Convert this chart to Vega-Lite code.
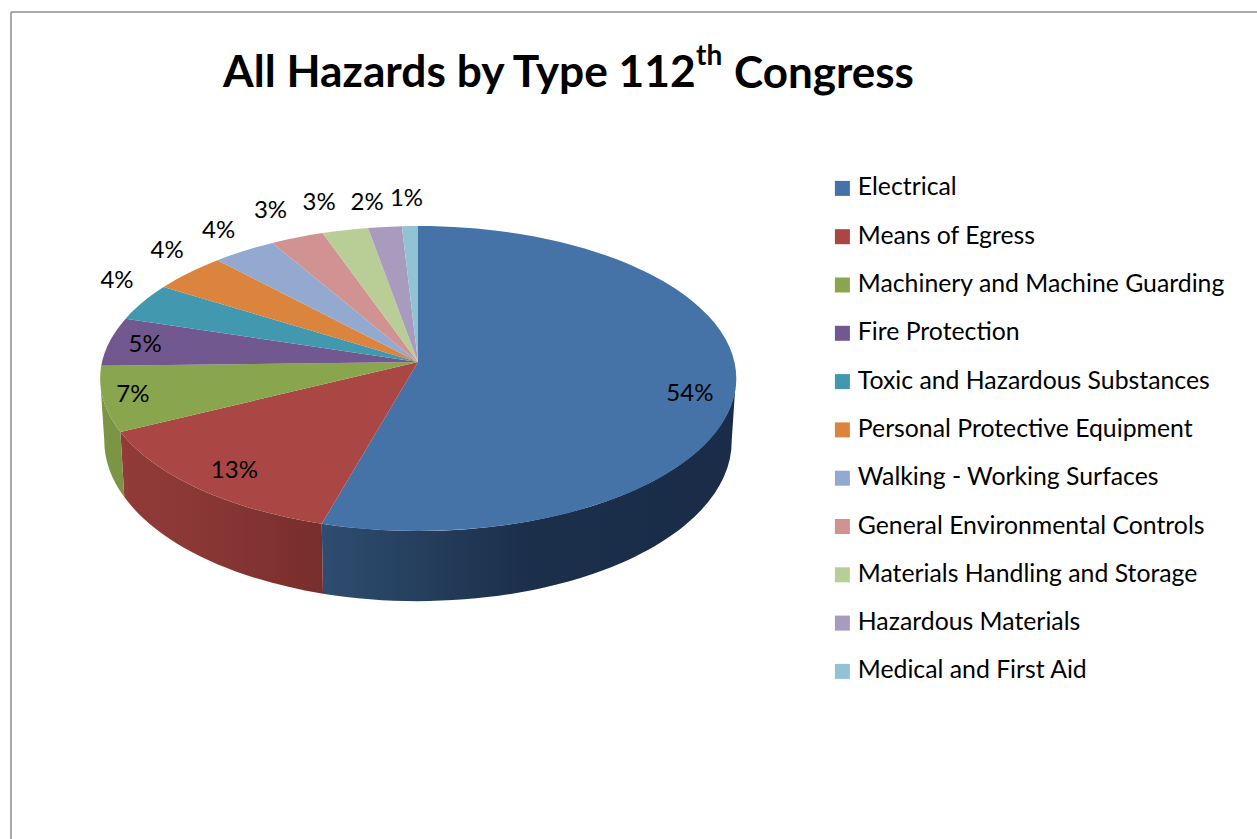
{
  "$schema": "https://vega.github.io/schema/vega-lite/v6.json",
  "width": 1257,
  "height": 839,
  "padding": 0,
  "autosize": "none",
  "background": "white",
  "view": {"stroke": null},
  "title": {
    "text": "All Hazards by Type 112",
    "anchor": "start",
    "frame": "group",
    "dx": 223,
    "dy": 43,
    "offset": -88,
    "baseline": "alphabetic",
    "font": "Lato",
    "fontWeight": "bold",
    "fontSize": 44.3,
    "color": "black"
  },
  "layer": [
    {
      "data": {"values": [
        {"type": "Electrical", "share": 54.4},
        {"type": "Means of Egress", "share": 13.3},
        {"type": "Machinery and Machine Guarding", "share": 6.9},
        {"type": "Fire Protection", "share": 5.2},
        {"type": "Toxic and Hazardous Substances", "share": 4.0},
        {"type": "Personal Protective Equipment", "share": 4.2},
        {"type": "Walking - Working Surfaces", "share": 3.6},
        {"type": "General Environmental Controls", "share": 3.0},
        {"type": "Materials Handling and Storage", "share": 2.6},
        {"type": "Hazardous Materials", "share": 1.9},
        {"type": "Medical and First Aid", "share": 0.9}
      ]},
      "transform": [
        {"window": [{"op": "sum", "field": "share", "as": "cum"}, {"op": "row_number", "as": "rank"}]},
        {"calculate": "(datum.cum-datum.share)/100*2*PI", "as": "a0"},
        {"calculate": "datum.cum/100*2*PI", "as": "a1"},
        {"calculate": "(datum.a0+datum.a1)/2", "as": "mid"},
        {"calculate": "316*sin(datum.a0)/(1+0.108*cos(datum.a0))", "as": "px0"},
        {"calculate": "-150.7*cos(datum.a0)/(1+0.108*cos(datum.a0))", "as": "py0"},
        {"calculate": "316*sin(datum.a1)/(1+0.108*cos(datum.a1))", "as": "px1"},
        {"calculate": "-150.7*cos(datum.a1)/(1+0.108*cos(datum.a1))", "as": "py1"},
        {"calculate": "'M0,0L'+datum.px0+','+datum.py0+'A318,152.5 0 '+(datum.share>50?1:0)+' 1 '+datum.px1+','+datum.py1+'Z'", "as": "face"},
        {"calculate": "max(datum.a0,1.679)", "as": "wa0"},
        {"calculate": "min(datum.a1,4.604)", "as": "wa1"},
        {"calculate": "316*sin(datum.wa0)/(1+0.108*cos(datum.wa0))", "as": "wx0"},
        {"calculate": "-150.7*cos(datum.wa0)/(1+0.108*cos(datum.wa0))", "as": "wy0"},
        {"calculate": "316*sin(datum.wa1)/(1+0.108*cos(datum.wa1))", "as": "wx1"},
        {"calculate": "-150.7*cos(datum.wa1)/(1+0.108*cos(datum.wa1))", "as": "wy1"},
        {"calculate": "'M'+datum.wx0+','+datum.wy0+'A318,152.5 0 0 1 '+datum.wx1+','+datum.wy1+'L'+(0.987*datum.wx1)+','+(61.2+1.054*datum.wy1)+'A314,160 0 0 0 '+(0.987*datum.wx0)+','+(61.2+1.054*datum.wy0)+'Z'", "as": "wall"},
        {"calculate": "datum.share>=5?0.87:1.06", "as": "reach"},
        {"calculate": "1+0.108*cos(datum.mid)*datum.reach", "as": "persp"},
        {"calculate": "418+316*sin(datum.mid)*datum.reach/datum.persp+[-4,6,-12,-4,-10,-9,-16,-20,-22,-16,-3][datum.rank-1]", "as": "label_x"},
        {"calculate": "362-150.7*cos(datum.mid)*datum.reach/datum.persp+[14,0,1,1,-18,-17,-14,-20,-20,-17,-20][datum.rank-1]", "as": "label_y"},
        {"calculate": "format(datum.share,'.0f')+'%'", "as": "label"}
      ],
      "layer": [
        {
          "transform": [{"filter": "datum.type==='Electrical'"}],
          "mark": {
            "type": "point", "filled": true, "opacity": 1, "size": 4,
            "fill": {"gradient": "linear", "x1": 0, "y1": 0, "x2": 1, "y2": 0, "stops": [
              {"offset": 0, "color": "#2f4d70"},
              {"offset": 0.25, "color": "#243e5c"},
              {"offset": 0.5, "color": "#1b2f4b"},
              {"offset": 1, "color": "#1a2c47"}
            ]}
          },
          "encoding": {
            "x": {"datum": 418, "type": "quantitative", "scale": {"domain": [0, 1257], "range": [0, 1257]}, "axis": null},
            "y": {"datum": 362, "type": "quantitative", "scale": {"domain": [0, 839], "range": [0, 839]}, "axis": null},
            "shape": {"field": "wall", "type": "nominal", "scale": null}
          }
        },
        {
          "transform": [{"filter": "datum.type==='Means of Egress'"}],
          "mark": {
            "type": "point", "filled": true, "opacity": 1, "size": 4,
            "fill": {"gradient": "linear", "x1": 0, "y1": 0, "x2": 1, "y2": 0, "stops": [
              {"offset": 0, "color": "#923b39"},
              {"offset": 0.5, "color": "#873634"},
              {"offset": 1, "color": "#772e2c"}
            ]}
          },
          "encoding": {
            "x": {"datum": 418, "type": "quantitative", "scale": {"domain": [0, 1257], "range": [0, 1257]}, "axis": null},
            "y": {"datum": 362, "type": "quantitative", "scale": {"domain": [0, 839], "range": [0, 839]}, "axis": null},
            "shape": {"field": "wall", "type": "nominal", "scale": null}
          }
        },
        {
          "transform": [{"filter": "datum.type==='Machinery and Machine Guarding'"}],
          "mark": {"type": "point", "filled": true, "opacity": 1, "size": 4, "fill": "#7b9445"},
          "encoding": {
            "x": {"datum": 418, "type": "quantitative", "scale": {"domain": [0, 1257], "range": [0, 1257]}, "axis": null},
            "y": {"datum": 362, "type": "quantitative", "scale": {"domain": [0, 839], "range": [0, 839]}, "axis": null},
            "shape": {"field": "wall", "type": "nominal", "scale": null}
          }
        },
        {
          "mark": {"type": "point", "filled": true, "opacity": 1, "size": 4},
          "encoding": {
            "x": {"datum": 418, "type": "quantitative", "scale": {"domain": [0, 1257], "range": [0, 1257]}, "axis": null},
            "y": {"datum": 362, "type": "quantitative", "scale": {"domain": [0, 839], "range": [0, 839]}, "axis": null},
            "shape": {"field": "face", "type": "nominal", "scale": null},
            "color": {
              "field": "type",
              "type": "nominal",
              "scale": {
                "domain": ["Electrical", "Means of Egress", "Machinery and Machine Guarding", "Fire Protection", "Toxic and Hazardous Substances", "Personal Protective Equipment", "Walking - Working Surfaces", "General Environmental Controls", "Materials Handling and Storage", "Hazardous Materials", "Medical and First Aid"],
                "range": ["#4572a7", "#aa4643", "#89a54e", "#71588f", "#4198af", "#db843d", "#93a9cf", "#d19392", "#b9cd96", "#a99bbd", "#91c3d5"]
              },
              "legend": {
                "orient": "none",
                "legendX": 830,
                "legendY": 176,
                "title": null,
                "symbolType": "square",
                "symbolSize": 225,
                "symbolStrokeWidth": 0,
                "symbolOpacity": 1,
                "labelFont": "Lato",
                "labelFontSize": 24.8,
                "labelColor": "black",
                "labelLimit": 500,
                "labelOffset": 3,
                "rowPadding": 22.3,
                "columnPadding": 0
              }
            }
          }
        },
        {
          "mark": {"type": "text", "font": "Lato", "fontSize": 24, "color": "black", "align": "center", "baseline": "middle"},
          "encoding": {
            "x": {"field": "label_x", "type": "quantitative", "scale": {"domain": [0, 1257], "range": [0, 1257]}, "axis": null},
            "y": {"field": "label_y", "type": "quantitative", "scale": {"domain": [0, 839], "range": [0, 839]}, "axis": null},
            "text": {"field": "label", "type": "nominal"}
          }
        }
      ]
    },
    {
      "data": {"values": [{"text": "th"}]},
      "mark": {"type": "text", "font": "Lato", "fontWeight": "bold", "fontSize": 28, "color": "black", "align": "left", "baseline": "alphabetic"},
      "encoding": {
        "x": {"datum": 696, "type": "quantitative", "scale": {"domain": [0, 1257], "range": [0, 1257]}, "axis": null},
        "y": {"datum": 65, "type": "quantitative", "scale": {"domain": [0, 839], "range": [0, 839]}, "axis": null},
        "text": {"field": "text", "type": "nominal"}
      }
    },
    {
      "data": {"values": [{"text": "Congress"}]},
      "mark": {"type": "text", "font": "Lato", "fontWeight": "bold", "fontSize": 44, "color": "black", "align": "left", "baseline": "alphabetic"},
      "encoding": {
        "x": {"datum": 734, "type": "quantitative", "scale": {"domain": [0, 1257], "range": [0, 1257]}, "axis": null},
        "y": {"datum": 88, "type": "quantitative", "scale": {"domain": [0, 839], "range": [0, 839]}, "axis": null},
        "text": {"field": "text", "type": "nominal"}
      }
    },
    {
      "data": {"values": [{"edge": "top"}]},
      "mark": {"type": "rule", "color": "#8c8c8c", "strokeWidth": 1.5},
      "encoding": {
        "x": {"datum": 11, "type": "quantitative", "scale": {"domain": [0, 1257], "range": [0, 1257]}, "axis": null},
        "x2": {"datum": 1257},
        "y": {"datum": 12, "type": "quantitative", "scale": {"domain": [0, 839], "range": [0, 839]}, "axis": null}
      }
    },
    {
      "data": {"values": [{"edge": "left"}]},
      "mark": {"type": "rule", "color": "#8c8c8c", "strokeWidth": 1.5},
      "encoding": {
        "x": {"datum": 11, "type": "quantitative", "scale": {"domain": [0, 1257], "range": [0, 1257]}, "axis": null},
        "y": {"datum": 12, "type": "quantitative", "scale": {"domain": [0, 839], "range": [0, 839]}, "axis": null},
        "y2": {"datum": 839}
      }
    }
  ]
}
